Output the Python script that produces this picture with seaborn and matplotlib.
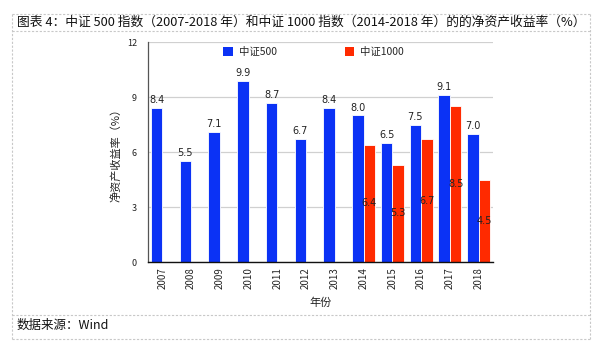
import matplotlib
matplotlib.use("Agg")
import matplotlib.pyplot as plt
from matplotlib.lines import Line2D
from matplotlib.patches import Patch
import numpy as np
import pandas as pd
import seaborn as sns

# ROE by year for CSI 500 (2007-2018) and CSI 1000 (2014-2018)
years = ["2007", "2008", "2009", "2010", "2011", "2012", "2013",
         "2014", "2015", "2016", "2017", "2018"]
csi500 = [8.4, 5.5, 7.1, 9.9, 8.7, 6.7, 8.4, 8.0, 6.5, 7.5, 9.1, 7.0]
csi1000_years = ["2014", "2015", "2016", "2017", "2018"]
csi1000 = [6.4, 5.3, 6.7, 8.5, 4.5]
series_names = ["中证500", "中证1000"]
y_ticks = [0, 3, 6, 9, 12]

title = "图表 4：中证 500 指数（2007-2018 年）和中证 1000 指数（2014-2018 年）的的净资产收益率（%）"
source = "数据来源：Wind"

sns.set_theme(style="white")
plt.rcParams["font.family"] = ["Noto Sans CJK SC", "DejaVu Sans"]

df = pd.concat([
    pd.DataFrame({"年份": years, "值": csi500, "指数": series_names[0]}),
    pd.DataFrame({"年份": csi1000_years, "值": csi1000, "指数": series_names[1]}),
], ignore_index=True)

colors = {series_names[0]: "#0b32f5", series_names[1]: "#ff2a00"}

fig = plt.figure(figsize=(6.0, 3.49), dpi=100)
ax = fig.add_axes([148 / 600, 1 - 262 / 349, 345 / 600, 220 / 349])

sns.barplot(data=df, x="年份", y="值", hue="指数", order=years,
            hue_order=series_names, palette=colors, errorbar=None,
            saturation=1, width=0.8, ax=ax, legend=False, linewidth=0.6,
            edgecolor="#ffffff")

ax.set_ylim(0, 12)
ax.set_yticks(y_ticks)
ax.set_yticklabels([str(t) for t in y_ticks], fontsize=6.5, color="#222222")
ax.tick_params(axis="x", rotation=90, labelsize=7, length=0, pad=4)
ax.tick_params(axis="y", length=0, pad=8)
ax.yaxis.grid(True, color="#d0d0d0", linewidth=0.9)
ax.set_axisbelow(True)
for side in ["top", "right"]:
    ax.spines[side].set_visible(False)
ax.spines["left"].set_color("#555555")
ax.spines["left"].set_linewidth(0.9)
ax.spines["bottom"].set_color("#111111")
ax.spines["bottom"].set_linewidth(1.0)

ax.set_xlabel("年份", fontsize=8, color="#222222", labelpad=6)
ax.set_ylabel("净资产收益率（%）", fontsize=8, color="#222222", labelpad=4)

# value labels: CSI 500 above bars, CSI 1000 in the middle of bars
blue_c, red_c = ax.containers[0], ax.containers[1]
ax.bar_label(blue_c, labels=[f"{v:.1f}" for v in csi500], padding=2,
             fontsize=7, color="#222222", family="DejaVu Sans")
ax.bar_label(red_c, labels=[f"{v:.1f}" for v in csi1000], label_type="center",
             fontsize=7, color="#222222", family="DejaVu Sans")

handles = [Patch(facecolor=colors[n], edgecolor="none") for n in series_names]
ax.legend(handles, series_names, loc="upper center", ncol=2, frameon=False,
          fontsize=7.5, bbox_to_anchor=(0.48, 1.02), columnspacing=6.5,
          handlelength=0.9, handleheight=0.9, handletextpad=0.6)

# frame and separators around the chart block
dash = dict(color="#c8c8c8", linewidth=0.8, linestyle=(0, (2, 1.5)))
x0, x1 = 12 / 600, 590 / 600
yt, ym1, ym2, yb = 1 - 14 / 349, 1 - 31 / 349, 1 - 315 / 349, 1 - 339 / 349
for y in (yt, ym1, ym2, yb):
    fig.add_artist(Line2D([x0, x1], [y, y], transform=fig.transFigure, **dash))
for x in (x0, x1):
    fig.add_artist(Line2D([x, x], [yb, yt], transform=fig.transFigure, **dash))

fig.text(17 / 600, 1 - 22.5 / 349, title, fontsize=9.2, va="center",
         ha="left", color="#111111")
fig.text(17 / 600, 1 - 325 / 349, source, fontsize=9, va="center",
         ha="left", color="#111111")

fig.savefig("out.png", dpi=100)
